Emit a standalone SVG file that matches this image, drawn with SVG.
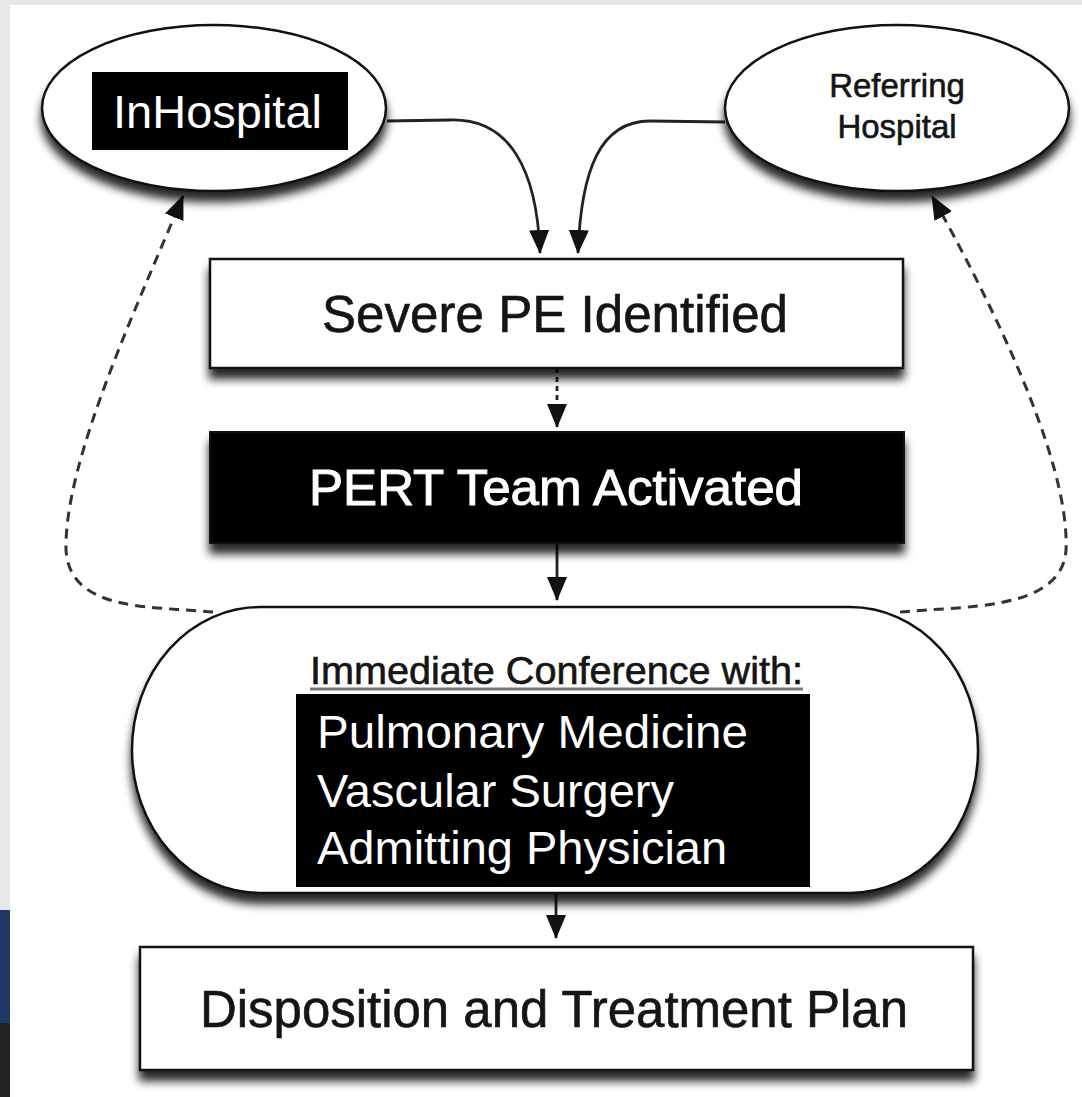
<svg xmlns="http://www.w3.org/2000/svg" width="1082" height="1097" viewBox="0 0 1082 1097">
  <style>
    .shape { fill: #ffffff; stroke: #111111; stroke-width: 2.5; }
    .dark { fill: #000000; stroke: #111111; stroke-width: 2; }
    .label { font-family: "Liberation Sans", Arial, sans-serif; fill: #151515; stroke: #151515; stroke-width: 0.6; }
    .inv { font-family: "Liberation Sans", Arial, sans-serif; fill: #ffffff; }
    .link { fill: none; stroke: #222222; stroke-width: 2.8; }
    .dashed { fill: none; stroke: #333333; stroke-width: 3; stroke-dasharray: 10 7; }
  </style>
  <defs>
    <filter id="shadow" x="-10%" y="-15%" width="120%" height="150%" color-interpolation-filters="sRGB">
      <feGaussianBlur in="SourceAlpha" stdDeviation="5" result="blur"/>
      <feOffset in="blur" dx="0" dy="10" result="off"/>
      <feComponentTransfer in="off" result="shade">
        <feFuncA type="linear" slope="0.85"/>
      </feComponentTransfer>
      <feMerge>
        <feMergeNode in="shade"/>
        <feMergeNode in="SourceGraphic"/>
      </feMerge>
    </filter>
    <marker id="head" viewBox="0 0 24 22" refX="23" refY="11" markerWidth="24" markerHeight="22" markerUnits="userSpaceOnUse" orient="auto">
      <path d="M0,1 L24,11 L0,21 Z" fill="#111111"/>
    </marker>
  </defs>

  <!-- page background with side strip -->
  <rect x="0" y="0" width="1082" height="1097" fill="#ffffff"/>
  <rect x="0" y="0" width="1082" height="5" fill="#e8e8e8"/>
  <rect x="0" y="0" width="10" height="910" fill="#e8e8e8"/>
  <rect x="0" y="910" width="10" height="113" fill="#1f3868"/>
  <rect x="0" y="1023" width="10" height="74" fill="#222222"/>

  <!-- connectors -->
  <g id="connectors">
    <path class="link" d="M387,121 L450,120 C510,118 537,170 540,253" marker-end="url(#head)"/>
    <path class="link" d="M725,122 L650,121 C600,121 581,170 578,253" marker-end="url(#head)"/>
    <path class="link" d="M557,368 L557,427" stroke-dasharray="5 4" marker-end="url(#head)"/>
    <path class="link" d="M557,543 L557,600" marker-end="url(#head)"/>
    <path class="link" d="M556,893 L556,938" marker-end="url(#head)"/>
    <path class="dashed" d="M213,612 C150,606 70,612 66,550 C64,460 140,300 183,196" marker-end="url(#head)"/>
    <path class="dashed" d="M900,612 C960,606 1062,612 1066,550 C1070,460 990,300 932,196" marker-end="url(#head)"/>
  </g>

  <!-- InHospital -->
  <g id="node-inhospital">
    <ellipse class="shape" cx="214" cy="108" rx="172" ry="83" filter="url(#shadow)"/>
    <rect x="92" y="72" width="256" height="78" fill="#000000"/>
    <text class="inv" x="113" y="128" font-size="47" textLength="209" lengthAdjust="spacingAndGlyphs">InHospital</text>
  </g>

  <!-- Referring Hospital -->
  <g id="node-referring">
    <ellipse class="shape" cx="897" cy="108" rx="172" ry="83" filter="url(#shadow)"/>
    <text class="label" x="897" y="97" font-size="33" text-anchor="middle" stroke-width="0.4">Referring</text>
    <text class="label" x="897" y="138" font-size="33" text-anchor="middle" stroke-width="0.4">Hospital</text>
  </g>

  <!-- Severe PE Identified -->
  <g id="node-severe">
    <rect class="shape" x="210" y="259" width="693" height="109" filter="url(#shadow)"/>
    <text class="label" x="555" y="332" font-size="51" text-anchor="middle" textLength="466" lengthAdjust="spacingAndGlyphs">Severe PE Identified</text>
  </g>

  <!-- PERT Team Activated -->
  <g id="node-pert">
    <rect class="dark" x="210" y="432" width="694" height="111" filter="url(#shadow)"/>
    <text class="inv" x="556" y="505" font-size="50" text-anchor="middle" stroke="#ffffff" stroke-width="1" textLength="494" lengthAdjust="spacingAndGlyphs">PERT Team Activated</text>
  </g>

  <!-- Immediate Conference -->
  <g id="node-conference">
    <rect class="shape" x="132" y="607" width="846" height="286" rx="128" ry="143" filter="url(#shadow)"/>
    <text class="label" x="310" y="684" font-size="38" stroke-width="0.4" textLength="493" lengthAdjust="spacingAndGlyphs">Immediate Conference with:</text>
    <line x1="310" y1="689" x2="803" y2="689" stroke="#777777" stroke-width="3"/>
    <rect x="296" y="694" width="514" height="193" fill="#000000"/>
    <text class="inv" x="317" y="748" font-size="47" textLength="431" lengthAdjust="spacingAndGlyphs">Pulmonary Medicine</text>
    <text class="inv" x="317" y="807" font-size="47">Vascular Surgery</text>
    <text class="inv" x="317" y="864" font-size="47">Admitting Physician</text>
  </g>

  <!-- Disposition and Treatment Plan -->
  <g id="node-disposition">
    <rect class="shape" x="140" y="947" width="833" height="123" filter="url(#shadow)"/>
    <text class="label" x="554" y="1027" font-size="51" text-anchor="middle" textLength="708" lengthAdjust="spacingAndGlyphs">Disposition and Treatment Plan</text>
  </g>
</svg>
